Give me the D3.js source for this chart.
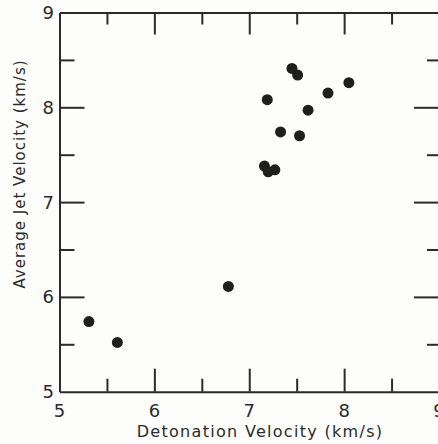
<!DOCTYPE html>
<html>
<head>
<meta charset="utf-8">
<script src="https://cdn.jsdelivr.net/npm/d3@7"></script>
<style>
  html, body { margin: 0; padding: 0; background: #fdfdfc; }
  svg { display: block; }
  text { font-family: "DejaVu Sans", sans-serif; fill: #2b2b2b; }
</style>
</head>
<body>
<svg id="chart" width="438" height="444"></svg>
<script>
// Detonation velocity vs. average jet velocity (km/s)
const detonationVelocity = [7.45, 7.51, 8.05, 7.83, 7.19, 7.62, 7.33, 7.53, 7.16, 7.20, 7.27, 5.31, 5.61, 6.78];
const jetVelocity        = [8.41, 8.34, 8.26, 8.15, 8.08, 7.97, 7.74, 7.70, 7.38, 7.32, 7.34, 5.74, 5.52, 6.11];

const xMajorTicks = [6, 7, 8];
const yMajorTicks = [6, 7, 8];
const minorTicks  = [5.5, 6.5, 7.5, 8.5];
const xTickLabels = [5, 6, 7, 8, 9];
const yTickLabels = [5, 6, 7, 8, 9];

const xTitle = "Detonation Velocity (km/s)";
const yTitle = "Average Jet Velocity (km/s)";

const ink = "#2b2b2b";
const svg = d3.select("#chart");

const plotLeft = 59.5, plotRight = 439, plotTop = 12.5, plotBottom = 391.7;

const x = d3.scaleLinear().domain([5, 9]).range([plotLeft, plotRight]);
const y = d3.scaleLinear().domain([5, 9]).range([plotBottom, plotTop]);

// Frame with inward major / minor ticks on all four sides
function frameAxis(axisFn, scale, ticks, size, transform, showDomain) {
  const g = svg.append("g")
    .attr("transform", transform)
    .call(axisFn(scale).tickValues(ticks).tickSizeInner(-size).tickSizeOuter(0).tickFormat(""));
  g.selectAll(".tick line").attr("stroke", ink).attr("stroke-width", 2);
  g.select(".domain").attr("stroke", ink).attr("stroke-width", 2).attr("display", showDomain ? null : "none");
  g.selectAll("text").remove();
  return g;
}

frameAxis(d3.axisBottom, x, xMajorTicks, 23, `translate(0,${plotBottom})`, true);
frameAxis(d3.axisBottom, x, minorTicks, 13, `translate(0,${plotBottom})`, false);
frameAxis(d3.axisTop, x, xMajorTicks, 22, `translate(0,${plotTop})`, true);
frameAxis(d3.axisTop, x, minorTicks, 12, `translate(0,${plotTop})`, false);
frameAxis(d3.axisLeft, y, yMajorTicks, 25, `translate(${plotLeft},0)`, true);
frameAxis(d3.axisLeft, y, minorTicks, 15, `translate(${plotLeft},0)`, false);
frameAxis(d3.axisRight, y, yMajorTicks, 25, `translate(${plotRight},0)`, true);
frameAxis(d3.axisRight, y, minorTicks, 12, `translate(${plotRight},0)`, false);

// Tick labels
svg.append("g").selectAll("text")
  .data(xTickLabels).join("text")
  .attr("x", d => x(d))
  .attr("y", 417)
  .attr("text-anchor", "middle")
  .attr("font-size", 18)
  .text(d => d);

svg.append("g").selectAll("text")
  .data(yTickLabels).join("text")
  .attr("x", 54)
  .attr("y", d => y(d) + 6.5)
  .attr("text-anchor", "end")
  .attr("font-size", 18)
  .text(d => d);

// Axis titles
svg.append("text")
  .attr("x", 260)
  .attr("y", 437)
  .attr("text-anchor", "middle")
  .attr("font-size", 16)
  .attr("letter-spacing", 1.3)
  .text(xTitle);

svg.append("text")
  .attr("transform", `translate(25,174) rotate(-90)`)
  .attr("text-anchor", "middle")
  .attr("font-size", 15)
  .attr("letter-spacing", 1.0)
  .text(yTitle);

// Points
svg.append("g").selectAll("circle")
  .data(detonationVelocity.map((d, i) => [d, jetVelocity[i]]))
  .join("circle")
  .attr("cx", d => x(d[0]))
  .attr("cy", d => y(d[1]))
  .attr("r", 5.5)
  .attr("fill", "#1f1f1f");
</script>
</body>
</html>
